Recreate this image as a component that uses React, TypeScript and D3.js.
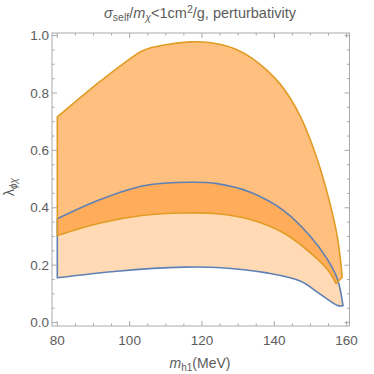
import React from 'react';
import * as d3 from 'd3';

// perturbativity region (orange boundary)
const pertUpperX = [80, 86, 91.9, 98, 103.9, 110, 116.8, 121.4, 125.5, 129.7, 134, 138, 141.7, 144.5, 147.3, 150.95, 154.65, 157.4, 158.8];
const pertUpperY = [0.717, 0.78, 0.841, 0.9, 0.949, 0.968, 0.978, 0.977, 0.968, 0.951, 0.92, 0.879, 0.83, 0.78, 0.716, 0.603, 0.452, 0.301, 0.158];
const pertLowerX = [80, 91.9, 103.9, 115, 124.2, 133.4, 142.6, 150, 154.7, 157.1];
const pertLowerY = [0.303, 0.347, 0.374, 0.382, 0.379, 0.359, 0.312, 0.243, 0.185, 0.136];

// self-interaction region (blue boundary)
const sigmaUpperX = [80, 91.9, 103.9, 116.8, 124.2, 133.4, 142.6, 150, 154.7, 157.5, 159];
const sigmaUpperY = [0.362, 0.429, 0.477, 0.489, 0.484, 0.454, 0.39, 0.3, 0.22, 0.15, 0.059];
const sigmaLowerX = [80, 96.5, 115, 124.2, 138, 147.3, 152.8, 157.6, 159];
const sigmaLowerY = [0.156, 0.179, 0.193, 0.192, 0.173, 0.144, 0.098, 0.059, 0.059];

const xMajor = [80, 100, 120, 140, 160];
const yMajor = [0, 0.2, 0.4, 0.6, 0.8, 1.0];

const W = 374;
const H = 374;
const font = '"Liberation Sans", Arial, sans-serif';

const x = d3.scaleLinear().domain([78.53, 160.8]).range([52, 349.5]);
const y = d3.scaleLinear().domain([-0.012, 1.009]).range([326, 33]);

const line = d3.line<[number, number]>()
  .x(d => x(d[0]))
  .y(d => y(d[1]))
  .curve(d3.curveCatmullRom.alpha(0.5));

const zip = (xs: number[], ys: number[]) => xs.map((v, i) => [v, ys[i]] as [number, number]);

const regionPath = (ux: number[], uy: number[], lx: number[], ly: number[]) => {
  const up = line(zip(ux, uy)) || '';
  const low = (line(zip(lx, ly).reverse()) || '').replace(/^M/, 'L');
  return up + low + 'Z';
};

const pertPath = regionPath(pertUpperX, pertUpperY, pertLowerX, pertLowerY);
const sigmaPath = regionPath(sigmaUpperX, sigmaUpperY, sigmaLowerX, sigmaLowerY);

const xMinor = d3.range(80, 160.01, 5).filter(v => !xMajor.includes(v));
const yMinor = d3.range(0, 1.001, 0.05).map(v => +v.toFixed(2)).filter(v => !yMajor.some(m => Math.abs(m - v) < 1e-6));

const frameColor = '#aaaaaa';
const labelColor = '#5c5c5c';

export default function App() {
  const [x0, x1] = x.range();
  const [y0, y1] = y.range();
  const maj = 5;
  const min = 2.6;
  return (
    <svg width={W} height={H} style={{ position: 'absolute', left: 0, top: 0, background: '#fff' }}>
      <path d={sigmaPath} fill="#ff8000" fillOpacity={0.29} stroke="none" />
      <path d={pertPath} fill="#ff8000" fillOpacity={0.5} stroke="none" />
      <path d={sigmaPath} fill="none" stroke="#5e81b5" strokeWidth={1.6} strokeLinejoin="round" />
      <path d={pertPath} fill="none" stroke="#e19c24" strokeWidth={1.6} strokeLinejoin="round" />

      <rect x={x0} y={y1} width={x1 - x0} height={y0 - y1} fill="none" stroke={frameColor} strokeWidth={1} />
      {xMajor.map(v => (
        <g key={'xM' + v}>
          <line x1={x(v)} x2={x(v)} y1={y0} y2={y0 - maj} stroke={frameColor} />
          <line x1={x(v)} x2={x(v)} y1={y1} y2={y1 + maj} stroke={frameColor} />
          <text x={x(v)} y={345} textAnchor="middle" fontSize={13.5} fontFamily={font} fill={labelColor}>{v}</text>
        </g>
      ))}
      {xMinor.map(v => (
        <g key={'xm' + v}>
          <line x1={x(v)} x2={x(v)} y1={y0} y2={y0 - min} stroke={frameColor} />
          <line x1={x(v)} x2={x(v)} y1={y1} y2={y1 + min} stroke={frameColor} />
        </g>
      ))}
      {yMajor.map(v => (
        <g key={'yM' + v}>
          <line x1={x0} x2={x0 + maj} y1={y(v)} y2={y(v)} stroke={frameColor} />
          <line x1={x1} x2={x1 - maj} y1={y(v)} y2={y(v)} stroke={frameColor} />
          <text x={49} y={y(v)} dy="0.35em" textAnchor="end" fontSize={13.5} fontFamily={font} fill={labelColor}>{v.toFixed(1)}</text>
        </g>
      ))}
      {yMinor.map(v => (
        <g key={'ym' + v}>
          <line x1={x0} x2={x0 + min} y1={y(v)} y2={y(v)} stroke={frameColor} />
          <line x1={x1} x2={x1 - min} y1={y(v)} y2={y(v)} stroke={frameColor} />
        </g>
      ))}

      <text x={200} y={18} textAnchor="middle" fontSize={14.5} fontFamily={font} fill={labelColor}>
        <tspan fontStyle="italic">σ</tspan>
        <tspan fontSize={10.5} dy={3}>self</tspan>
        <tspan dy={-3}>/</tspan>
        <tspan fontStyle="italic">m</tspan>
        <tspan fontSize={10.5} dy={3} fontStyle="italic">χ</tspan>
        <tspan dy={-3}>{'<1cm'}</tspan>
        <tspan fontSize={10.5} dy={-5}>2</tspan>
        <tspan dy={5}>/g, perturbativity</tspan>
      </text>

      <text transform="translate(14,187) rotate(-90)" textAnchor="middle" fontSize={14} fontFamily={font} fill={labelColor}>
        <tspan>λ</tspan>
        <tspan fontSize={10} dy={3} fontStyle="italic">ϕχ</tspan>
      </text>

      <text x={200} y={368} textAnchor="middle" fontSize={14} fontFamily={font} fill={labelColor}>
        <tspan fontStyle="italic">m</tspan>
        <tspan fontSize={10} dy={3}>h1</tspan>
        <tspan dy={-3}>(MeV)</tspan>
      </text>
    </svg>
  );
}
